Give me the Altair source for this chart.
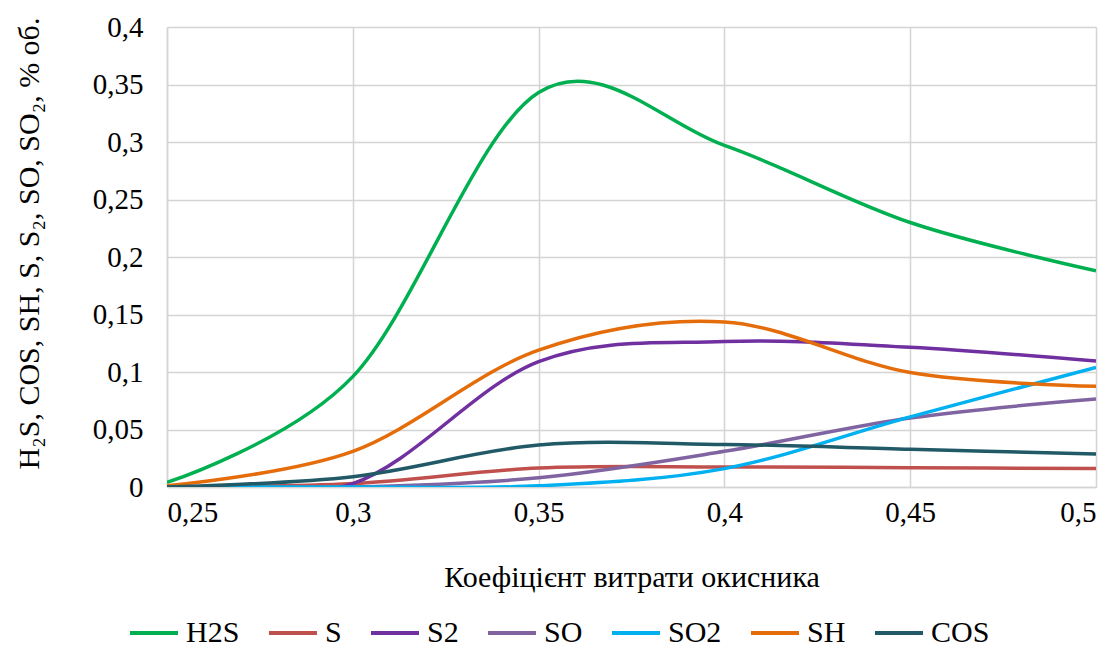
import altair as alt
import pandas as pd

x_vals = [0.25, 0.3, 0.35, 0.4, 0.45, 0.5]
series_names = ["H2S", "S", "S2", "SO", "SO2", "SH", "COS"]
h2s = [0.004, 0.096, 0.343, 0.297, 0.230, 0.188]
s = [0.0, 0.003, 0.0165, 0.0175, 0.0168, 0.016]
s2 = [0.0, 0.003, 0.109, 0.1265, 0.1215, 0.1095]
so = [0.0, 0.0, 0.008, 0.031, 0.060, 0.0765]
so2 = [0.0, 0.0, 0.001, 0.016, 0.061, 0.104]
sh = [0.001, 0.031, 0.119, 0.1435, 0.0995, 0.0875]
cos_ = [0.0, 0.009, 0.0365, 0.037, 0.0328, 0.0287]
colors = ["#00B050", "#C0504D", "#7030A0", "#8064A2", "#00B0F0", "#E46C0A", "#215967"]

x_ticks = [0.25, 0.3, 0.35, 0.4, 0.45, 0.5]
y_ticks = [0, 0.05, 0.1, 0.15, 0.2, 0.25, 0.3, 0.35, 0.4]

all_series = [h2s, s, s2, so, so2, sh, cos_]
rows = []
for i, (name, vals) in enumerate(zip(series_names, all_series)):
    for xv, yv in zip(x_vals, vals):
        rows.append({"x": xv, "y": yv, "series": name, "order": i})
df = pd.DataFrame(rows)

FONT = "'Liberation Serif', 'Times New Roman', Times, serif"
GRID = "#d4d4d4"

chart = alt.Chart(df).mark_line(
    interpolate="cardinal", tension=0, strokeWidth=3.5, clip=True
).encode(
    x=alt.X("x:Q",
            scale=alt.Scale(domain=[0.25, 0.5], nice=False, zero=False),
            axis=alt.Axis(values=x_ticks, title="Коефіцієнт витрати окисника",
                          labelExpr="replace(toString(datum.value), '.', ',')",
                          ticks=False, tickSize=0, labelPadding=11,
                          labelFontSize=29, titleFontSize=30, titlePadding=35,
                          grid=True)),
    y=alt.Y("y:Q",
            scale=alt.Scale(domain=[0, 0.4], nice=False),
            axis=alt.Axis(values=y_ticks, title="H₂S, COS, SH, S, S₂, SO, SO₂, % об.",
                          labelExpr="replace(toString(datum.value), '.', ',')",
                          ticks=False, tickSize=0, labelPadding=24,
                          labelFontSize=29, titleFontSize=30,
                          titleAngle=270, titleAlign="center", titleBaseline="middle",
                          titleX=-138, titleY=216,
                          grid=True)),
    color=alt.Color("series:N",
                    scale=alt.Scale(domain=series_names, range=colors),
                    sort=series_names,
                    legend=alt.Legend(title=None, orient="none", legendX=-39, legendY=580,
                                      direction="horizontal", symbolType="stroke",
                                      symbolSize=2304, symbolStrokeWidth=4,
                                      labelFont=FONT, labelFontSize=30, labelColor="black",
                                      labelOffset=6, columnPadding=21, padding=0,
                                      columns=7)),
    detail="series:N",
    order="order:Q",
).properties(
    width=929, height=460,
    autosize=alt.AutoSizeParams(type="none"),
    padding={"left": 159, "top": 19, "right": 10, "bottom": 162},
).configure(
    font=FONT, background="white"
).configure_axis(
    labelFont=FONT, titleFont=FONT, labelColor="black", titleColor="black",
    titleFontWeight="normal", gridColor=GRID, gridWidth=1.5,
    domainColor=GRID, domainWidth=1.5,
).configure_view(
    stroke="transparent"
)

chart.save("out.html", embed_options={"renderer": "svg", "actions": False})
